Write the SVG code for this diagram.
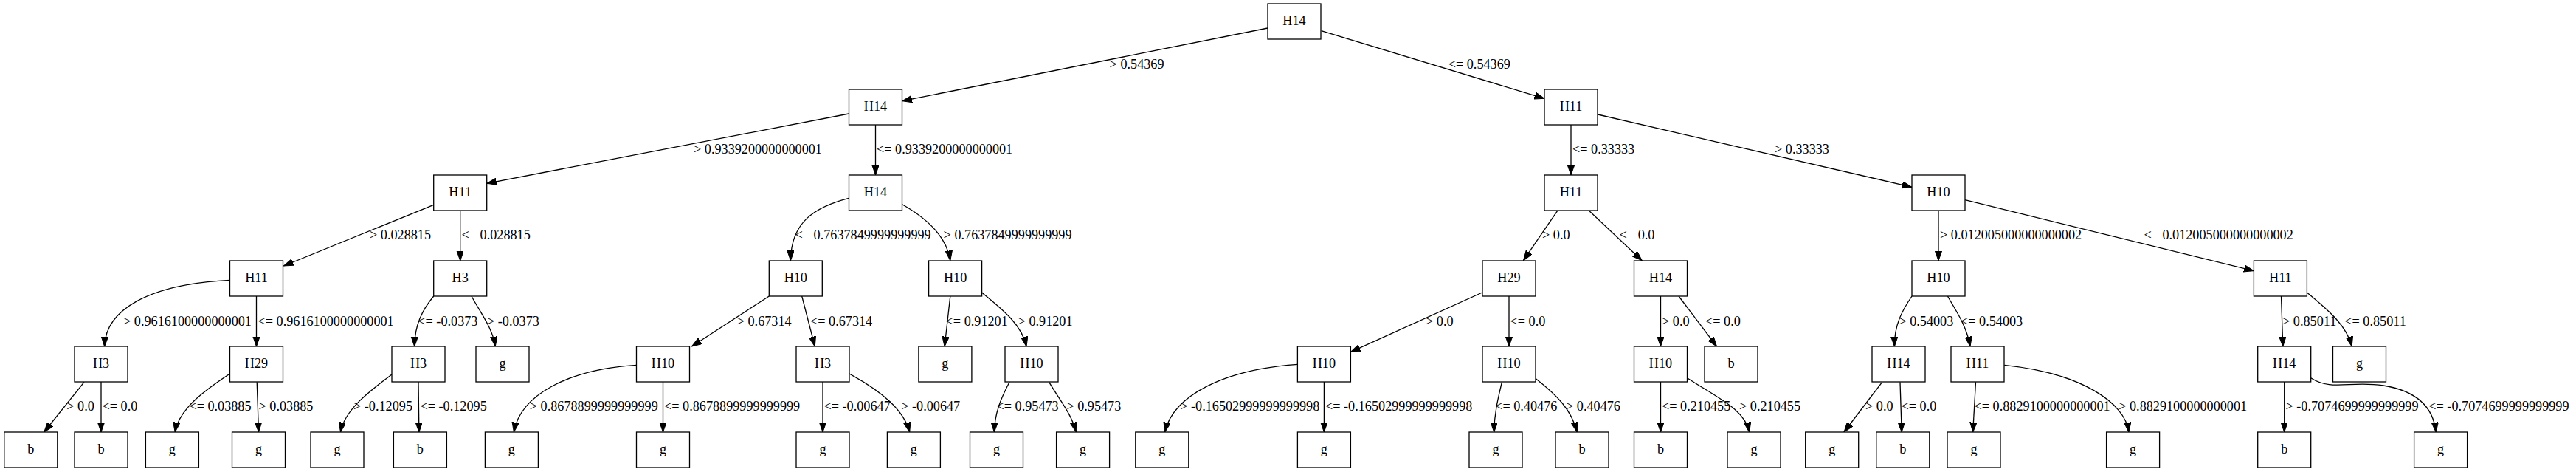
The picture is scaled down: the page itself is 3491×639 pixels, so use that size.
<svg xmlns="http://www.w3.org/2000/svg" width="3491" height="639" viewBox="0 0 3491 639">
<style>
.nd rect{fill:#fff;stroke:#000;stroke-width:1.3}
.nd text{font-family:"Liberation Serif","Times New Roman",serif;font-size:18.2px;text-anchor:middle;fill:#000}
.ed path{fill:none;stroke:#000;stroke-width:1.3;marker-end:url(#ah)}
.lb text{font-family:"Liberation Serif","Times New Roman",serif;font-size:18.2px;fill:#000}
</style>
<defs>
<marker id="ah" markerUnits="userSpaceOnUse" markerWidth="14" markerHeight="10" refX="13.3" refY="4.67" orient="auto" viewBox="0 0 14 10">
<path d="M0,0 L13.3,4.67 L0,9.33 z" fill="#000" stroke="#000" stroke-width="1"/>
</marker>
</defs>
<rect width="3491" height="639" fill="#fff"/>
<g id="edges" class="ed">
<path d="M1718,38 L1222.7,136.7"/>
<path d="M1790.6,41.7 L2092.8,133.3"/>
<path d="M1150.2,154 L659.7,248.3"/>
<path d="M1186.5,169 L1186.5,237"/>
<path d="M2129,169 L2129,237"/>
<path d="M2165.5,155 L2590.9,253.3"/>
<path d="M587.7,277.3 L384.5,360"/>
<path d="M623.7,285 L623.7,353"/>
<path d="M1150.2,268.3 C1105,280 1072,300 1071.4,352.7"/>
<path d="M1222.7,276.7 C1255,295 1283,320 1287.8,352.7"/>
<path d="M2110.5,285.7 L2064.5,352.7"/>
<path d="M2154,285.7 L2225.2,352.7"/>
<path d="M2627,285 L2627,353"/>
<path d="M2663.1,270.7 L3054.3,366.7"/>
<path d="M311.5,379.3 C200,385 143,420 141.6,469"/>
<path d="M347.5,401 L347.5,469"/>
<path d="M587.7,401 C572,420 562,440 561.7,469"/>
<path d="M639,401 C652,425 668,445 671.2,469"/>
<path d="M1042.3,401 L937.5,469"/>
<path d="M1086.7,401 L1104.3,469"/>
<path d="M1287.8,401 L1280.1,469"/>
<path d="M1330.6,396 C1360,420 1385,440 1391,469"/>
<path d="M2008.7,396 L1830.3,476.7"/>
<path d="M2045,401 L2045,469"/>
<path d="M2250.5,401 L2250.5,469"/>
<path d="M2275,401 L2326.5,469"/>
<path d="M2591,401 C2578,420 2567,440 2567.4,469"/>
<path d="M2639.5,401 C2650,420 2665,440 2670,469"/>
<path d="M3091.5,401 L3093.8,469"/>
<path d="M3126.4,396 C3155,420 3180,440 3187.2,469"/>
<path d="M114,517.3 L59.7,585"/>
<path d="M137,517 L137,585"/>
<path d="M311.5,506 C275,530 242,555 237.2,585"/>
<path d="M348.2,517.3 L350.5,585"/>
<path d="M531,507 C500,530 467,555 461.5,585"/>
<path d="M567,517 L567.9,585"/>
<path d="M862.5,494.3 C770,500 705,535 696.4,585"/>
<path d="M898.5,517 L898.5,585"/>
<path d="M1115,517 L1115,585"/>
<path d="M1151,506 C1195,530 1225,555 1232.7,585"/>
<path d="M1368.1,517.3 C1356,540 1348,560 1347.4,585"/>
<path d="M1421.7,517.3 C1435,540 1452,560 1458.4,585"/>
<path d="M1758.4,493.3 C1660,500 1590,535 1578.6,585"/>
<path d="M1794.4,517 L1794.4,585"/>
<path d="M2035.4,517.3 C2030,540 2025,560 2024.7,585"/>
<path d="M2081.4,512.7 C2110,535 2130,555 2137.2,585"/>
<path d="M2250.5,517 L2250.5,585"/>
<path d="M2286.5,511.7 C2330,540 2365,555 2370.6,585"/>
<path d="M2550.7,517.3 L2499,585"/>
<path d="M2575,517.3 L2577.2,585"/>
<path d="M2677.5,517.3 L2673.7,585"/>
<path d="M2716.3,494.3 C2820,505 2880,545 2884.9,585"/>
<path d="M3095.7,517 L3095.7,585"/>
<path d="M3131.7,511.7 C3160,530 3185,515 3230,522 C3280,530 3298,555 3301.2,585"/>
</g>
<g id="labels" class="lb">
<text x="1503.6" y="93">&gt; 0.54369</text>
<text x="1962.7" y="93">&lt;= 0.54369</text>
<text x="940" y="208">&gt; 0.9339200000000001</text>
<text x="1188" y="208">&lt;= 0.9339200000000001</text>
<text x="2131" y="208">&lt;= 0.33333</text>
<text x="2405" y="208">&gt; 0.33333</text>
<text x="501" y="324">&gt; 0.028815</text>
<text x="625.5" y="324">&lt;= 0.028815</text>
<text x="1077.5" y="324">&lt;= 0.7637849999999999</text>
<text x="1278.6" y="324">&gt; 0.7637849999999999</text>
<text x="2090" y="324">&gt; 0.0</text>
<text x="2194.6" y="324">&lt;= 0.0</text>
<text x="2629" y="324">&gt; 0.012005000000000002</text>
<text x="2905.4" y="324">&lt;= 0.012005000000000002</text>
<text x="167" y="441">&gt; 0.9616100000000001</text>
<text x="349.5" y="441">&lt;= 0.9616100000000001</text>
<text x="566.3" y="441">&lt;= -0.0373</text>
<text x="660" y="441">&gt; -0.0373</text>
<text x="998.7" y="441">&gt; 0.67314</text>
<text x="1098" y="441">&lt;= 0.67314</text>
<text x="1281.6" y="441">&lt;= 0.91201</text>
<text x="1379.6" y="441">&gt; 0.91201</text>
<text x="1932" y="441">&gt; 0.0</text>
<text x="2046.5" y="441">&lt;= 0.0</text>
<text x="2252" y="441">&gt; 0.0</text>
<text x="2311" y="441">&lt;= 0.0</text>
<text x="2573.4" y="441">&gt; 0.54003</text>
<text x="2657" y="441">&lt;= 0.54003</text>
<text x="3093" y="441">&gt; 0.85011</text>
<text x="3177.3" y="441">&lt;= 0.85011</text>
<text x="90.3" y="556">&gt; 0.0</text>
<text x="138.5" y="556">&lt;= 0.0</text>
<text x="256.4" y="556">&lt;= 0.03885</text>
<text x="350.5" y="556">&gt; 0.03885</text>
<text x="479" y="556">&gt; -0.12095</text>
<text x="569.5" y="556">&lt;= -0.12095</text>
<text x="717.8" y="556">&gt; 0.8678899999999999</text>
<text x="900" y="556">&lt;= 0.8678899999999999</text>
<text x="1116.5" y="556">&lt;= -0.00647</text>
<text x="1221.2" y="556">&gt; -0.00647</text>
<text x="1350.5" y="556">&lt;= 0.95473</text>
<text x="1445.4" y="556">&gt; 0.95473</text>
<text x="1599.2" y="556">&gt; -0.16502999999999998</text>
<text x="1796" y="556">&lt;= -0.16502999999999998</text>
<text x="2026.2" y="556">&lt;= 0.40476</text>
<text x="2122" y="556">&gt; 0.40476</text>
<text x="2252" y="556">&lt;= 0.210455</text>
<text x="2357" y="556">&gt; 0.210455</text>
<text x="2528" y="556">&gt; 0.0</text>
<text x="2576.5" y="556">&lt;= 0.0</text>
<text x="2675.5" y="556">&lt;= 0.8829100000000001</text>
<text x="2871.2" y="556">&gt; 0.8829100000000001</text>
<text x="3097.5" y="556">&gt; -0.7074699999999999</text>
<text x="3291.3" y="556">&lt;= -0.7074699999999999</text>
</g>
<g id="n0" class="nd"><rect x="1718" y="5" width="72" height="48"/><text x="1754" y="34.3">H14</text></g>
<g id="n1" class="nd"><rect x="1150.5" y="121" width="72" height="48"/><text x="1186.5" y="150.3">H14</text></g>
<g id="n2" class="nd"><rect x="2093" y="121" width="72" height="48"/><text x="2129" y="150.3">H11</text></g>
<g id="n3" class="nd"><rect x="587.7" y="237" width="72" height="48"/><text x="623.7" y="266.3">H11</text></g>
<g id="n4" class="nd"><rect x="1150.5" y="237" width="72" height="48"/><text x="1186.5" y="266.3">H14</text></g>
<g id="n5" class="nd"><rect x="2093" y="237" width="72" height="48"/><text x="2129" y="266.3">H11</text></g>
<g id="n6" class="nd"><rect x="2591" y="237" width="72" height="48"/><text x="2627" y="266.3">H10</text></g>
<g id="n7" class="nd"><rect x="311.5" y="353" width="72" height="48"/><text x="347.5" y="382.3">H11</text></g>
<g id="n8" class="nd"><rect x="587.7" y="353" width="72" height="48"/><text x="623.7" y="382.3">H3</text></g>
<g id="n9" class="nd"><rect x="1042.3" y="353" width="72" height="48"/><text x="1078.3" y="382.3">H10</text></g>
<g id="n10" class="nd"><rect x="1258.6" y="353" width="72" height="48"/><text x="1294.6" y="382.3">H10</text></g>
<g id="n11" class="nd"><rect x="2009" y="353" width="72" height="48"/><text x="2045" y="382.3">H29</text></g>
<g id="n12" class="nd"><rect x="2214.5" y="353" width="72" height="48"/><text x="2250.5" y="382.3">H14</text></g>
<g id="n13" class="nd"><rect x="2591" y="353" width="72" height="48"/><text x="2627" y="382.3">H10</text></g>
<g id="n14" class="nd"><rect x="3054.4" y="353" width="72" height="48"/><text x="3090.4" y="382.3">H11</text></g>
<g id="n15" class="nd"><rect x="101" y="469" width="72" height="48"/><text x="137" y="498.3">H3</text></g>
<g id="n16" class="nd"><rect x="311.5" y="469" width="72" height="48"/><text x="347.5" y="498.3">H29</text></g>
<g id="n17" class="nd"><rect x="531" y="469" width="72" height="48"/><text x="567" y="498.3">H3</text></g>
<g id="n18" class="nd"><rect x="645" y="469" width="72" height="48"/><text x="681" y="498.3">g</text></g>
<g id="n19" class="nd"><rect x="862.5" y="469" width="72" height="48"/><text x="898.5" y="498.3">H10</text></g>
<g id="n20" class="nd"><rect x="1079" y="469" width="72" height="48"/><text x="1115" y="498.3">H3</text></g>
<g id="n21" class="nd"><rect x="1244.9" y="469" width="72" height="48"/><text x="1280.9" y="498.3">g</text></g>
<g id="n22" class="nd"><rect x="1362" y="469" width="72" height="48"/><text x="1398" y="498.3">H10</text></g>
<g id="n23" class="nd"><rect x="1758.4" y="469" width="72" height="48"/><text x="1794.4" y="498.3">H10</text></g>
<g id="n24" class="nd"><rect x="2009" y="469" width="72" height="48"/><text x="2045" y="498.3">H10</text></g>
<g id="n25" class="nd"><rect x="2214.5" y="469" width="72" height="48"/><text x="2250.5" y="498.3">H10</text></g>
<g id="n26" class="nd"><rect x="2310" y="469" width="72" height="48"/><text x="2346" y="498.3">b</text></g>
<g id="n27" class="nd"><rect x="2537" y="469" width="72" height="48"/><text x="2573" y="498.3">H14</text></g>
<g id="n28" class="nd"><rect x="2644" y="469" width="72" height="48"/><text x="2680" y="498.3">H11</text></g>
<g id="n29" class="nd"><rect x="3059.7" y="469" width="72" height="48"/><text x="3095.7" y="498.3">H14</text></g>
<g id="n30" class="nd"><rect x="3161.5" y="469" width="72" height="48"/><text x="3197.5" y="498.3">g</text></g>
<g id="n31" class="nd"><rect x="5.8" y="585" width="72" height="48"/><text x="41.8" y="614.3">b</text></g>
<g id="n32" class="nd"><rect x="101" y="585" width="72" height="48"/><text x="137" y="614.3">b</text></g>
<g id="n33" class="nd"><rect x="197.4" y="585" width="72" height="48"/><text x="233.4" y="614.3">g</text></g>
<g id="n34" class="nd"><rect x="314.5" y="585" width="72" height="48"/><text x="350.5" y="614.3">g</text></g>
<g id="n35" class="nd"><rect x="421" y="585" width="72" height="48"/><text x="457" y="614.3">g</text></g>
<g id="n36" class="nd"><rect x="533.4" y="585" width="72" height="48"/><text x="569.4" y="614.3">b</text></g>
<g id="n37" class="nd"><rect x="657.4" y="585" width="72" height="48"/><text x="693.4" y="614.3">g</text></g>
<g id="n38" class="nd"><rect x="862.5" y="585" width="72" height="48"/><text x="898.5" y="614.3">g</text></g>
<g id="n39" class="nd"><rect x="1079" y="585" width="72" height="48"/><text x="1115" y="614.3">g</text></g>
<g id="n40" class="nd"><rect x="1202.4" y="585" width="72" height="48"/><text x="1238.4" y="614.3">g</text></g>
<g id="n41" class="nd"><rect x="1314.5" y="585" width="72" height="48"/><text x="1350.5" y="614.3">g</text></g>
<g id="n42" class="nd"><rect x="1431.6" y="585" width="72" height="48"/><text x="1467.6" y="614.3">g</text></g>
<g id="n43" class="nd"><rect x="1538.8" y="585" width="72" height="48"/><text x="1574.8" y="614.3">g</text></g>
<g id="n44" class="nd"><rect x="1758.4" y="585" width="72" height="48"/><text x="1794.4" y="614.3">g</text></g>
<g id="n45" class="nd"><rect x="1991" y="585" width="72" height="48"/><text x="2027" y="614.3">g</text></g>
<g id="n46" class="nd"><rect x="2108" y="585" width="72" height="48"/><text x="2144" y="614.3">b</text></g>
<g id="n47" class="nd"><rect x="2214.5" y="585" width="72" height="48"/><text x="2250.5" y="614.3">b</text></g>
<g id="n48" class="nd"><rect x="2341" y="585" width="72" height="48"/><text x="2377" y="614.3">g</text></g>
<g id="n49" class="nd"><rect x="2446.7" y="585" width="72" height="48"/><text x="2482.7" y="614.3">g</text></g>
<g id="n50" class="nd"><rect x="2542.8" y="585" width="72" height="48"/><text x="2578.8" y="614.3">b</text></g>
<g id="n51" class="nd"><rect x="2639" y="585" width="72" height="48"/><text x="2675" y="614.3">g</text></g>
<g id="n52" class="nd"><rect x="2854.6" y="585" width="72" height="48"/><text x="2890.6" y="614.3">g</text></g>
<g id="n53" class="nd"><rect x="3059.7" y="585" width="72" height="48"/><text x="3095.7" y="614.3">b</text></g>
<g id="n54" class="nd"><rect x="3271.6" y="585" width="72" height="48"/><text x="3307.6" y="614.3">g</text></g>
</svg>
